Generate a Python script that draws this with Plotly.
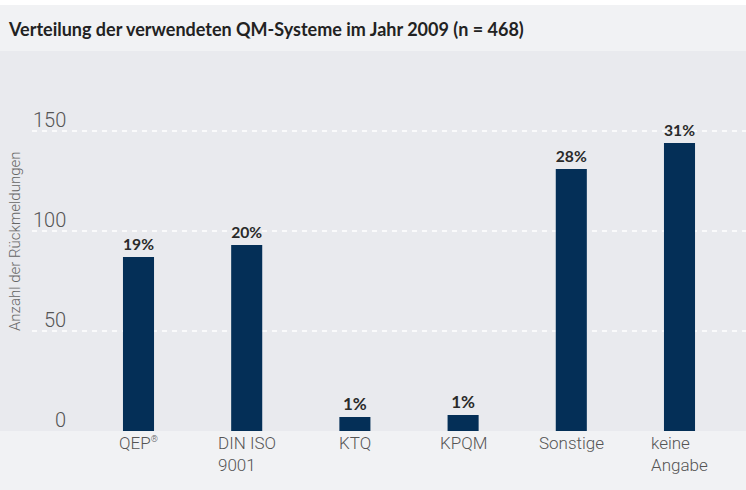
import plotly.graph_objects as go

# ---- data ----
categories = ["QEP<sup><span style='font-size:9px'>®</span></sup>", "DIN ISO<br>9001", "KTQ", "KPQM", "Sonstige", "keine<br>Angabe"]
counts = [87, 93, 7, 8, 131, 144]
percent_labels = ["19%", "20%", "1%", "1%", "28%", "31%"]
y_tick_values = [0, 50, 100, 150]
y_tick_labels = ["0", "50", "100", "150"]
grid_values = [50, 100, 150]
title_text = "Verteilung der verwendeten QM-Systeme im Jahr 2009 (n = 468)"
y_title = "Anzahl der Rückmeldungen"

W, H = 746, 490
TOP, BOTTOM = 51, 59
PLOT_H = H - TOP - BOTTOM

BAR = "#042f57"
PLOT_BG = "#e9eaee"
PAPER_BG = "#f1f2f4"
LIGHT_FONT = "Roboto, Lato, 'DejaVu Sans', sans-serif"
BOLD_FONT = "Lato, 'DejaVu Sans', sans-serif"

x_pos = list(range(len(categories)))

fig = go.Figure()
fig.add_trace(go.Bar(
    x=x_pos, y=counts,
    marker=dict(color=BAR, line=dict(width=0)),
    text=percent_labels, textposition="outside",
    textfont=dict(family=BOLD_FONT, size=17, color="#2a2a2a", weight=700),
    cliponaxis=False, hoverinfo="skip",
))

shapes = [
    # white strip at very top
    dict(type="rect", xref="paper", yref="paper", x0=0, x1=1,
         y0=1 + (TOP - 5) / PLOT_H, y1=1 + TOP / PLOT_H,
         fillcolor="white", line=dict(width=0), layer="below"),
]
for g in grid_values:
    shapes.append(dict(type="line", xref="paper", yref="y", x0=32 / W, x1=1, y0=g, y1=g,
                       line=dict(color="white", width=1.6, dash="5px,5px"), layer="below"))

annotations = []
for v, t in zip(y_tick_values, y_tick_labels):
    annotations.append(dict(x=68 / W, xref="paper", y=v, yref="y", text=t, showarrow=False,
                            xanchor="right", yanchor="bottom", yshift=-3,
                            font=dict(family=LIGHT_FONT, size=20, color="#555555", weight=300)))
for i, c in zip(x_pos, categories):
    annotations.append(dict(x=i, xref="x", y=0, yref="paper", text=c, showarrow=False,
                            xanchor="center", yanchor="top", align="left", yshift=0,
                            font=dict(family=LIGHT_FONT, size=17, color="#555555", weight=300)))
annotations.append(dict(x=15 / W, xref="paper", y=(H - BOTTOM - 242) / PLOT_H, yref="paper",
                        text=y_title, textangle=-90, showarrow=False,
                        xanchor="center", yanchor="middle",
                        font=dict(family=LIGHT_FONT, size=15, color="#666666", weight=300)))

fig.update_layout(
    width=W, height=H,
    margin=dict(l=0, r=0, t=TOP, b=BOTTOM, pad=0),
    paper_bgcolor=PAPER_BG, plot_bgcolor=PLOT_BG,
    showlegend=False,
    bargap=0.713,
    title=dict(text="<b>" + title_text + "</b>", x=9 / W, xanchor="left", xref="paper",
               y=1 - 30 / H, yanchor="middle",
               font=dict(family=BOLD_FONT, size=18, color="#222222")),
    xaxis=dict(range=[-138.5 / 108.2, (W - 138.5) / 108.2], showticklabels=False,
               showgrid=False, zeroline=False, showline=False, ticks=""),
    yaxis=dict(range=[0, PLOT_H / 2], showticklabels=False, showgrid=False,
               zeroline=False, showline=False, ticks=""),
    shapes=shapes, annotations=annotations,
)

fig.write_html("out.html", config={"displayModeBar": False},
               post_script="document.body.style.margin='0';")
